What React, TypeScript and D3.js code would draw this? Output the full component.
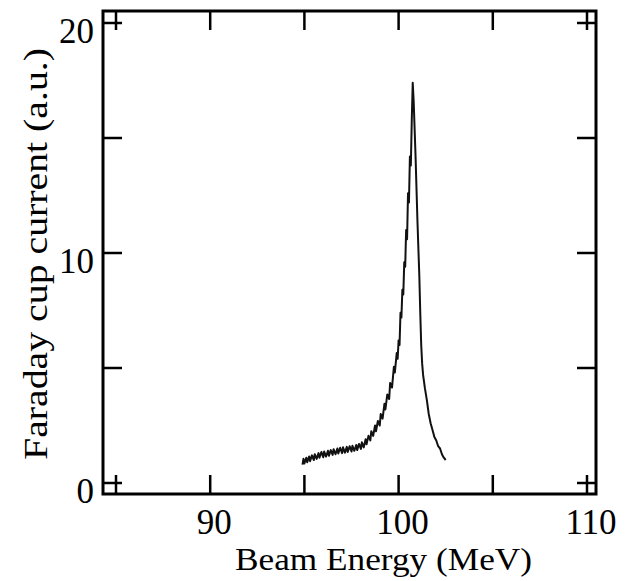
import React from "react";
import * as d3 from "d3";

const energy = [
  94.9, 94.95, 95.0, 95.1, 95.15, 95.25, 95.3, 95.4, 95.5, 95.55, 95.65, 95.75, 95.8, 95.9,
  96.0, 96.05, 96.15, 96.25, 96.3, 96.4, 96.5, 96.55, 96.65, 96.75, 96.8, 96.9,
  97.0, 97.05, 97.15, 97.25, 97.3, 97.4, 97.5, 97.55, 97.65, 97.75, 97.8, 97.9,
  98.0, 98.05, 98.15, 98.25, 98.3, 98.4, 98.5, 98.55, 98.65, 98.75, 98.8, 98.9,
  99.0, 99.05, 99.15, 99.25, 99.3, 99.4, 99.5, 99.55, 99.65, 99.75, 99.8, 99.9, 99.95,
  100.0, 100.05, 100.1, 100.15, 100.2, 100.25, 100.3, 100.35, 100.4, 100.45, 100.5, 100.55,
  100.6, 100.65, 100.7, 100.75, 100.8, 100.85, 100.9, 100.95, 101.0, 101.05, 101.1, 101.15,
  101.2, 101.25, 101.3, 101.4, 101.5, 101.6, 101.7, 101.8, 101.9, 102.0, 102.1, 102.2,
  102.3, 102.4, 102.5,
];

const current = [
  0.8, 1.05, 0.85, 1.1, 0.9, 1.15, 0.95, 1.2, 1.0, 1.25, 1.05, 1.3, 1.1, 1.35,
  1.12, 1.37, 1.15, 1.4, 1.18, 1.43, 1.22, 1.47, 1.25, 1.5, 1.28, 1.53,
  1.3, 1.55, 1.32, 1.57, 1.35, 1.6, 1.37, 1.62, 1.4, 1.65, 1.43, 1.7,
  1.48, 1.77, 1.55, 1.9, 1.68, 2.05, 1.85, 2.25, 2.05, 2.5, 2.25, 2.7,
  2.5, 3.0, 2.8, 3.45, 3.2, 3.85, 3.65, 4.35, 4.15, 5.05, 4.8, 5.65, 5.4,
  6.2, 6.0, 7.4, 7.2, 8.4, 8.2, 9.6, 9.4, 11.0, 10.6, 12.6, 12.2,
  14.2, 13.8, 15.8, 17.4, 16.6, 15.4, 14.2, 12.8, 11.4, 10.2, 9.0, 7.4,
  6.0, 5.2, 4.7, 4.1, 3.6, 3.0, 2.6, 2.3, 2.0, 1.85, 1.6, 1.5,
  1.25, 1.1, 1.0,
];

const xTicks = [85, 90, 95, 100, 105, 110];
const xTickLabels = ["90", "100", "110"];
const xLabelValues = [90, 100, 110];
const yTicks = [0, 5, 10, 15, 20];
const yLabelValues = [0, 10, 20];
const yTickLabels = ["0", "10", "20"];

export default function App() {
  const W = 637;
  const H = 581;
  const x = d3.scaleLinear().domain([85, 110]).range([116, 587]);
  const y = d3.scaleLinear().domain([0, 20]).range([483, 23]);

  const left = x(85) - 13;
  const right = x(110) + 9;
  const top = y(20) - 12;
  const bottom = y(0) + 11;
  const tickLen = 19;

  const pts = energy.map((e, i) => [e, current[i]] as [number, number]);
  const line = d3
    .line<[number, number]>()
    .x((d) => x(d[0]))
    .y((d) => y(d[1]));

  const font = "'Liberation Serif', 'Times New Roman', serif";

  return (
    <svg
      width={W}
      height={H}
      style={{ position: "absolute", left: 0, top: 0, background: "#fff" }}
    >
      <rect x={0} y={0} width={W} height={H} fill="#fff" />
      <rect
        x={left}
        y={top}
        width={right - left}
        height={bottom - top}
        fill="none"
        stroke="#000"
        strokeWidth={3}
      />
      {xTicks.map((t) => (
        <g key={"xt" + t}>
          <line x1={x(t)} x2={x(t)} y1={bottom} y2={bottom - tickLen} stroke="#000" strokeWidth={2.5} />
          <line x1={x(t)} x2={x(t)} y1={top} y2={top + tickLen} stroke="#000" strokeWidth={2.5} />
        </g>
      ))}
      {yTicks.map((t) => (
        <g key={"yt" + t}>
          <line x1={left} x2={left + tickLen} y1={y(t)} y2={y(t)} stroke="#000" strokeWidth={2.5} />
          <line x1={right} x2={right - tickLen} y1={y(t)} y2={y(t)} stroke="#000" strokeWidth={2.5} />
        </g>
      ))}
      {xLabelValues.map((v, i) => (
        <text
          key={"xl" + v}
          x={x(v) + 4}
          y={534}
          textAnchor="middle"
          fontFamily={font}
          fontSize={35}
          fill="#000"
        >
          {xTickLabels[i]}
        </text>
      ))}
      {yLabelValues.map((v, i) => (
        <text
          key={"yl" + v}
          x={left - 9}
          y={y(v) + 20}
          textAnchor="end"
          fontFamily={font}
          fontSize={35}
          fill="#000"
        >
          {yTickLabels[i]}
        </text>
      ))}
      <path
        d={line(pts) || ""}
        fill="none"
        stroke="#111"
        strokeWidth={2}
        strokeLinejoin="round"
      />
      <text
        x={383.5}
        y={570}
        textAnchor="middle"
        fontFamily={font}
        fontSize={32}
        textLength={297}
        lengthAdjust="spacingAndGlyphs"
        fill="#000"
      >
        Beam Energy (MeV)
      </text>
      <text
        transform="translate(47,254) rotate(-90)"
        textAnchor="middle"
        fontFamily={font}
        fontSize={34}
        textLength={412}
        lengthAdjust="spacingAndGlyphs"
        fill="#000"
      >
        Faraday cup current (a.u.)
      </text>
    </svg>
  );
}
